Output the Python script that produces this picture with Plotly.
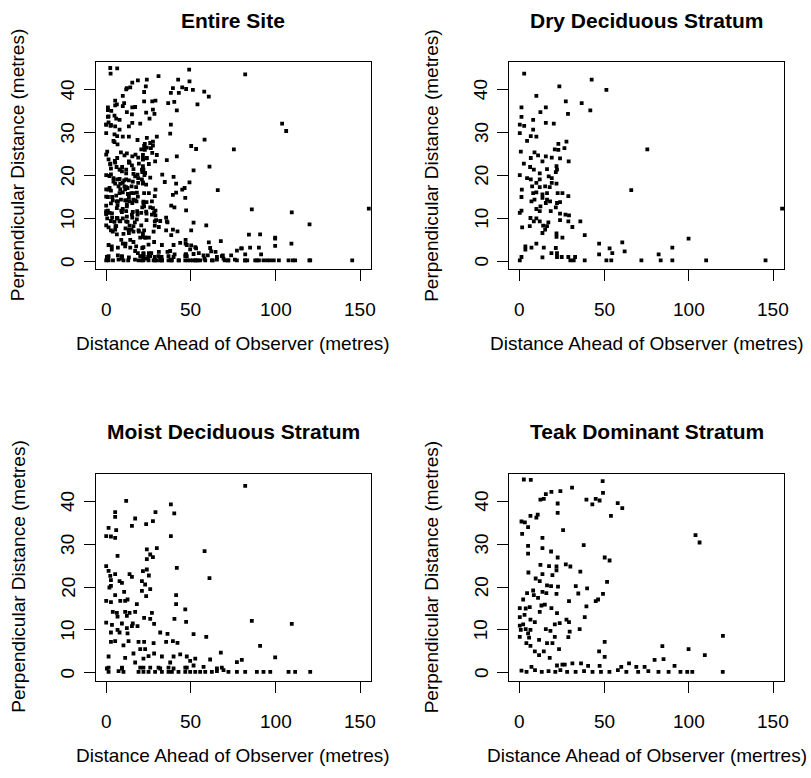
import plotly.graph_objects as go

# ---------------- data ----------------
dry_x = [2.6, 42.5, 51.2, 23.4, 9.8, 1, 12.2, 15.4, 27.2, 36.6, 41.7, 28.5, 1, 7.9, 15.4, 20.1, 0, 2.6,
         7.9, 0, 6.5, 9.8, 4.3, 27.6, 22.8, 20.7, 22.8, 26.4, 75.4, 0.6, 8.7, 10.8, 15.4, 18.9, 23.8, 6.5,
         28.9, 13.4, 2.4, 16.1, 21.7, 22, 6.1, 8.3, 0, 21.3, 11.8, 17.1, 18.9, 4.3, 6.5, 11.8, 18.9, 9.8,
         21.7, 1.2, 7.3, 11.8, 15, 17.7, 65.9, 9.8, 7.9, 13.4, 16.1, 22.4, 25.2, 1, 13.4, 28.7, 16.1, 17.9,
         6.9, 8.7, 15.4, 22, 23.8, 12.2, 21.3, 9.8, 11.8, 18.3, 1, 0, 23.8, 27, 29.1, 6.3, 9.8, 8.3, 11.8,
         16.9, 23.8, 28.7, 35.8, 1.4, 5.9, 13.8, 16.1, 31.1, 15, 13.4, 21.7, 38.4, 21.7, 25.2, 99.8, 9.8,
         46.9, 60.6, 3.3, 3.3, 6.9, 14.2, 21.3, 53.1, 90.2, 62, 18.7, 22, 54.7, 46.9, 82.1, 1, 13.4, 22,
         24.8, 28.7, 32.7, 0, 29.9, 31.9, 38.4, 51.2, 54.1, 71.9, 83.3, 90.2, 110.2, 145.3, 155.1]
dry_y = [43.8, 42.4, 40.0, 40.8, 38.6, 35.9, 34.8, 35.9, 37.3, 36.9, 35.2, 34.4, 33.7, 33.0, 32.3, 32.1, 31.9,
         31.6, 30.7, 29.9, 29.2, 29.1, 28.1, 27.9, 27.4, 26.1, 26.0, 26.4, 26.1, 25.6, 25.4, 24.7, 24.5, 24.2,
         24.0, 24.1, 23.3, 23.3, 22.8, 21.5, 22.2, 21.4, 22.0, 21.4, 20.1, 20.8, 20.5, 19.8, 19.4, 19.4, 19.1,
         19.1, 18.3, 18.3, 18.1, 16.7, 17.5, 17.3, 17.5, 17.3, 16.6, 16.1, 15.9, 15.6, 15.9, 15.9, 15.9, 15.0,
         14.8, 15.2, 14.4, 14.0, 14.0, 14.4, 13.6, 13.6, 13.8, 12.8, 12.6, 12.2, 11.7, 11.7, 11.8, 11.3, 11.1,
         10.9, 10.7, 10.1, 10.0, 9.3, 9.3, 9.1, 9.6, 9.3, 9.3, 7.9, 8.2, 8.3, 8.2, 8.0, 7.4, 6.6, 6.5, 6.1,
         5.7, 5.5, 5.3, 4.1, 4.1, 4.4, 3.5, 2.7, 3.2, 3.2, 3.1, 3.0, 3.2, 2.3, 1.9, 1.9, 1.9, 1.6, 1.6, 1.0,
         0.9, 1.0, 1.0, 1.0, 1.0, 0.2, 0.2, 0.2, 0.2, 0.2, 0.2, 0.2, 0.2, 0.2, 0.2, 0.2, 12.3]

moist_x = [82.1, 11.8, 38.2, 40.2, 29.1, 5.3, 5.3, 17.1, 27.6, 23.6, 15.2, 1.4, 5.9, 0, 2.8, 5.3, 38.2, 24,
           29.9, 58.1, 26, 27.6, 6.7, 24, 41.7, 0, 1.4, 5.3, 2.4, 13.8, 15.2, 21.7, 24, 25.2, 61, 7.9, 9.3,
           2.8, 21.1, 23, 2.8, 26, 1.9, 10.6, 21.1, 23.6, 41.3, 5.3, 0, 2.8, 8.3, 11.2, 12.6, 18.1, 41.3, 46.7,
           3.9, 6.3, 11.2, 13.8, 17.1, 27, 6.7, 12.2, 22.4, 26, 40.3, 0, 3.4, 9.3, 15.7, 28.3, 47.2, 86, 109.6,
           6.7, 12.2, 15.2, 18.5, 2.8, 7.9, 12.6, 31.9, 36.2, 51.6, 2.8, 5.3, 10.2, 13.2, 19.1, 22.4, 28, 35.4,
           39.4, 42.1, 59.1, 20.1, 23, 90.9, 16.1, 25, 28.3, 22, 32.9, 39.8, 43.7, 47.6, 49.6, 52.6, 61.4, 67.7,
           77.2, 80.1, 99.8, 1.4, 11.2, 17.1, 37.8, 1.4, 9.3, 20.1, 26, 30.9, 36.8, 47.6, 51.6, 57.5, 68.3,
           1.4, 7.3, 10.2, 19.1, 22, 25, 28.9, 32.9, 36.8, 38.8, 42.7, 46.7, 49.6, 52.6, 55.5, 58.5, 62.4, 65.4,
           69.3, 72.2, 77.2, 82.1, 89, 92.9, 96.9, 107.7, 111.6, 120.5,
           0.4, 9.3, 22, 31.9, 39.8, 46.7, 65.4]
moist_y = [43.6, 40.1, 39.3, 37.2, 37.5, 37.5, 36.4, 36.0, 35.4, 34.7, 34.3, 33.8, 33.3, 31.9, 31.8, 31.5, 31.9,
           28.8, 29.1, 28.4, 27.6, 27.0, 27.3, 26.5, 24.5, 24.9, 23.8, 23.0, 22.6, 23.0, 22.4, 23.7, 24.1, 22.7,
           22.1, 21.4, 21.0, 21.6, 21.4, 20.6, 20.3, 19.5, 19.9, 18.9, 19.1, 17.9, 18.1, 18.1, 16.8, 16.5, 16.8,
           16.8, 17.1, 16.0, 16.0, 14.8, 14.2, 14.0, 14.2, 14.0, 14.2, 14.0, 13.1, 13.3, 12.8, 12.6, 12.6, 11.7,
           11.2, 11.5, 11.5, 11.4, 11.9, 12.1, 11.4, 10.0, 10.4, 10.9, 10.9, 9.4, 9.4, 9.2, 9.4, 9.1, 9.0, 7.2,
           7.4, 6.4, 7.4, 7.2, 7.2, 6.9, 7.2, 7.4, 7.0, 8.4, 5.5, 5.5, 6.3, 4.5, 3.9, 4.5, 3.3, 3.8, 3.8, 4.3,
           3.8, 2.8, 3.3, 3.1, 4.7, 2.5, 3.0, 3.6, 3.8, 3.5, 2.4, 2.4, 1.2, 1.2, 1.2, 1.2, 1.2, 1.2, 1.2, 1.7,
           1.4, 1.2,
           0.2, 0.4, 0.2, 0.2, 0.2, 0.2, 0.2, 0.2, 0.2, 0.2, 0.2, 0.2, 0.2, 0.2, 0.2, 0.2, 0.2, 0.4, 0.6, 0.2,
           0.2, 0.2, 0.2, 0.2, 0.2, 0.2, 0.2, 0.2,
           1.0, 1.0, 1.2, 1.0, 1.0, 1.2, 1.0]

teak_x = [2.4, 6.5, 49, 30.9, 24, 18.7, 15.4, 49.2, 12.2, 14.2, 39.4, 44.9, 47.2, 42.9, 22.4, 57.9, 60.6, 22.4,
          6.3, 10.6, 9.8, 53.9, 1, 3, 4.9, 25.6, 1.4, 13.4, 103.9, 106.3, 37.8, 4.9, 13.4, 4.9, 18.5, 22.4,
          50.2, 53.1, 12.2, 17.3, 21.7, 27.2, 29.9, 21.7, 35.8, 5.1, 19.3, 13.4, 9.4, 11.8, 51.6, 18.5, 22.6,
          16.1, 33.1, 39.8, 7.9, 13.4, 4.3, 8.3, 15.7, 21.7, 34.6, 49.2, 10.8, 2, 46.3, 44.9, 29.1, 14.8, 12.8,
          18.7, 39.4, 0, 3.5, 5.9, 11.8, 2.8, 22, 0, 6.3, 27.6, 29.1, 23.6, 8.9, 2, 38.4, 0, 20.7, 15.4, 0.6,
          3.5, 6.3, 18.1, 29.5, 35.4, 4.9, 0, 5.5, 20.7, 28.7, 50.2, 120.1, 11.4, 3.9, 6.3, 16.1, 19.3, 84.3,
          99.8, 23.2, 14.2, 8.9, 46.9, 109.4, 11.4, 17.7, 50.2, 79.7, 85, 64.6, 91.5, 6.9, 22, 25.2, 26.6, 31.1,
          36.2, 40.4, 47.2, 60, 68.9, 73.8,
          1, 4, 9, 13, 17, 21, 24, 28, 33, 38, 43, 48, 53, 58, 63, 70, 76, 82, 88, 95, 99, 102, 120]
teak_y = [45.1, 45.0, 44.7, 43.2, 42.4, 42.2, 41.7, 42.0, 40.4, 40.6, 40.4, 40.6, 40.2, 39.3, 39.5, 39.6, 38.4,
          37.3, 36.6, 36.9, 36.2, 36.6, 35.3, 35.1, 34.0, 33.3, 32.4, 31.5, 32.1, 30.4, 29.8, 29.6, 29.1, 27.8,
          28.3, 26.9, 26.9, 26.2, 25.2, 24.9, 24.8, 25.3, 24.8, 23.9, 23.6, 23.4, 22.8, 23.0, 22.0, 21.4, 21.2,
          20.2, 20.1, 20.4, 20.2, 19.7, 19.2, 18.9, 18.6, 18.1, 18.6, 18.4, 18.5, 18.4, 17.5, 17.1, 17.1, 16.7,
          16.7, 15.9, 15.7, 15.1, 15.5, 15.1, 15.0, 15.3, 14.2, 13.5, 13.9, 13.0, 12.4, 12.4, 11.8, 11.6, 11.8,
          11.3, 13.0, 11.0, 11.3, 10.2, 10.0, 10.2, 10.0, 9.8, 9.6, 10.2, 9.2, 8.4, 8.2, 8.4, 8.3, 7.2, 8.6,
          7.7, 6.9, 6.3, 6.9, 6.9, 6.2, 5.5, 5.5, 5.0, 5.0, 5.0, 4.1, 4.1, 3.5, 3.7, 3.0, 3.2, 2.2, 1.6, 1.4,
          1.7, 1.9, 1.9, 2.2, 2.2, 1.6, 1.6, 1.4, 1.4, 1.4,
          0.5, 0.2, 0.6, 0.2, 0.4, 0.2, 0.6, 0.2, 0.2, 0.4, 0.2, 0.2, 0.2, 0.6, 0.2, 0.2, 0.4, 0.2, 0.2, 0.2,
          0.2, 0.2, 0.2]

# Entire site = all three strata together
entire_x = dry_x + moist_x + teak_x
entire_y = dry_y + moist_y + teak_y

titles = ["Entire Site", "Dry Deciduous Stratum", "Moist Deciduous Stratum", "Teak Dominant Stratum"]
xtitles = ["Distance Ahead of Observer (metres)", "Distance Ahead of Observer (metres)",
           "Distance Ahead of Observer (metres)", "Distance Ahead of Observer (mertres)"]
ytitle = "Perpendicular Distance (metres)"
xticks = [0, 50, 100, 150]
yticks = [0, 10, 20, 30, 40]

# ---------------- layout ----------------
W, H = 811, 778
FONT = "Liberation Sans, Arial, Helvetica, sans-serif"

# plot boxes in pixels: (left, right, top, bottom)
boxes = [(95.7, 371.0, 62.0, 269.0), (509.3, 784.3, 62.0, 269.0),
         (95.7, 371.0, 473.5, 680.5), (509.3, 784.3, 473.5, 680.5)]
series = [(entire_x, entire_y), (dry_x, dry_y), (moist_x, moist_y), (teak_x, teak_y)]

fig = go.Figure()
annotations = []
for i, ((l, r, t, b), (sx, sy)) in enumerate(zip(boxes, series)):
    xa = "xaxis" if i == 0 else f"xaxis{i+1}"
    ya = "yaxis" if i == 0 else f"yaxis{i+1}"
    xr = "x" if i == 0 else f"x{i+1}"
    yr = "y" if i == 0 else f"y{i+1}"
    fig.add_trace(go.Scatter(x=sx, y=sy, mode="markers", xaxis=xr, yaxis=yr,
                             marker=dict(symbol="square", size=3.8, color="black", line=dict(width=0)),
                             showlegend=False, hoverinfo="x+y"))
    common = dict(showgrid=False, zeroline=False, showline=True, mirror=True, linecolor="black",
                  linewidth=1, ticks="outside", ticklen=11, tickcolor="black", tickwidth=1,
                  showticklabels=False)
    fig.layout[xa] = dict(domain=[l / W, r / W], anchor=yr, range=[-6.2, 156.4],
                          tickmode="array", tickvals=xticks, **common)
    fig.layout[ya] = dict(domain=[1 - b / H, 1 - t / H], anchor=xr, range=[-1.8, 46.5],
                          tickmode="array", tickvals=yticks, **common)
    # tick labels placed at the axis values (R style: y labels parallel to the axis)
    for v in xticks:
        annotations.append(dict(text=str(v), x=v, xref=xr, y=1 - (b + 40.5) / H, yref="paper",
                                showarrow=False, xanchor="center", yanchor="middle",
                                font=dict(family=FONT, size=19, color="black")))
    for v in yticks:
        annotations.append(dict(text=str(v), y=v, yref=yr, x=(l - 28) / W, xref="paper",
                                showarrow=False, xanchor="center", yanchor="middle", textangle=-90,
                                font=dict(family=FONT, size=19, color="black")))
    cx = (l + r) / 2 / W
    annotations.append(dict(text=f"<b>{titles[i]}</b>", x=cx, y=1 - (t - 42) / H, xref="paper", yref="paper",
                            showarrow=False, xanchor="center", yanchor="middle",
                            font=dict(family=FONT, size=21, color="black")))
    annotations.append(dict(text=xtitles[i], x=cx, y=1 - (b + 75) / H, xref="paper", yref="paper",
                            showarrow=False, xanchor="center", yanchor="middle",
                            font=dict(family=FONT, size=19, color="black")))
    annotations.append(dict(text=ytitle, x=(l - 78) / W, y=1 - (t + b) / 2 / H, xref="paper", yref="paper",
                            showarrow=False, xanchor="center", yanchor="middle", textangle=-90,
                            font=dict(family=FONT, size=19, color="black")))

fig.update_layout(width=W, height=H, margin=dict(l=0, r=0, t=0, b=0),
                  paper_bgcolor="white", plot_bgcolor="white", annotations=annotations)

fig.write_html("out.html")
